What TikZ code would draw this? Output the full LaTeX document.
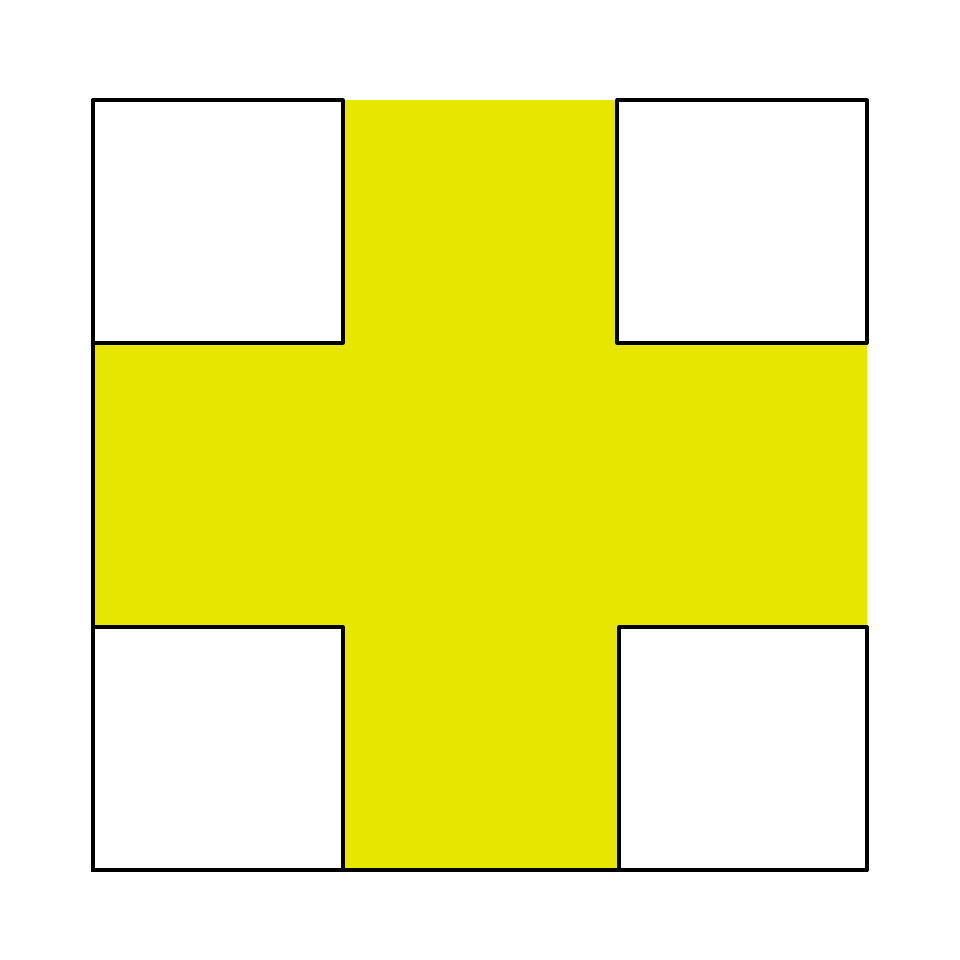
\documentclass[tikz,border=0pt]{standalone}
\usepackage{xcolor}
\usepackage{tikz}
\definecolor{crossyellow}{RGB}{230,230,0}
\tikzset{
  corner/.style ={draw=black, fill=white, line width=3.2pt, line join=round},
  edge/.style   ={draw=black, line width=3.6pt, line cap=round},
}
\begin{document}
\begin{tikzpicture}[x=1pt,y=-1pt]
\useasboundingbox (0,0) rectangle (960,960);
\fill[crossyellow] (93,100) rectangle (867,870);
\foreach \xa/\ya/\xb/\yb in {93/100/343/343, 617/100/867/343,
                             93/627/343/870, 619/627/867/870}{
  \draw[corner] (\xa,\ya) rectangle (\xb,\yb);
}
\draw[edge] (93,100) -- (93,870) -- (867,870);
\end{tikzpicture}
\end{document}
